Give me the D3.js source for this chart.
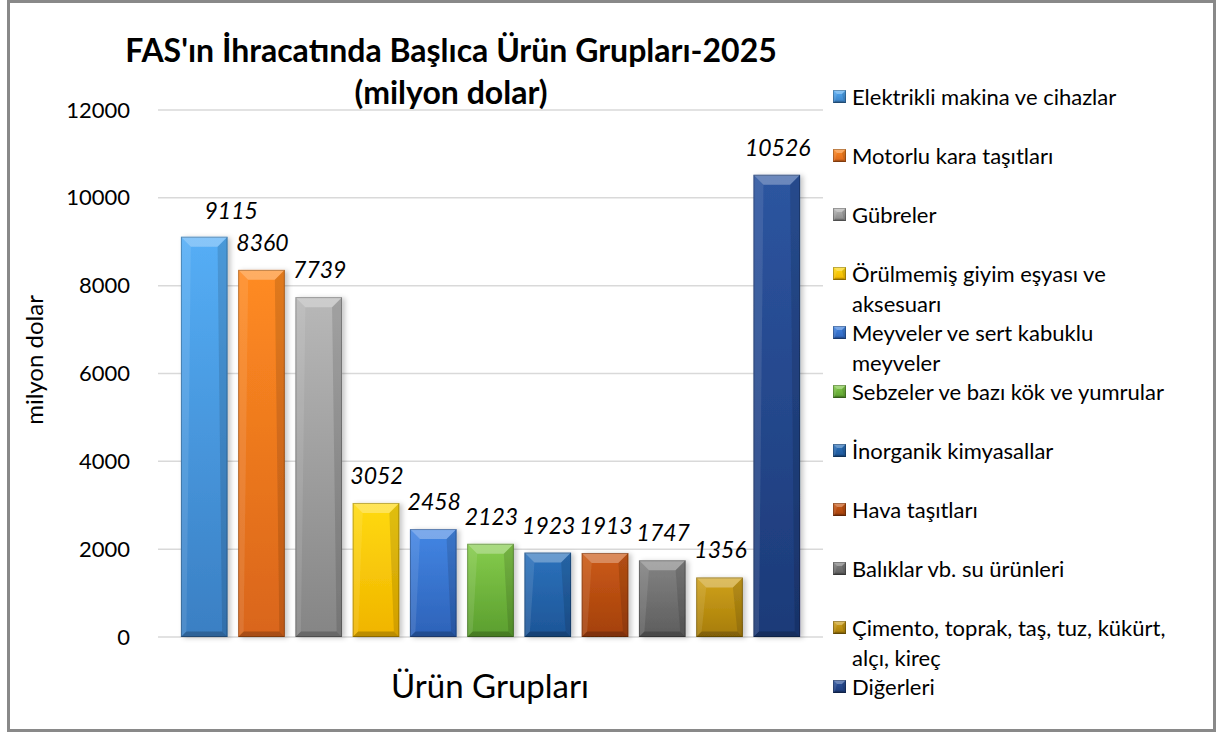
<!DOCTYPE html>
<html>
<head>
<meta charset="utf-8">
<script src="https://cdn.jsdelivr.net/npm/d3@7"></script>
<style>
  body { margin: 0; background: #fff; }
  svg { display: block; font-family: Lato, "Open Sans", "DejaVu Sans", sans-serif; }
</style>
</head>
<body>
<svg id="canvas"></svg>
<script>
// chart data
const categories = [
  "Elektrikli makina ve cihazlar",
  "Motorlu kara taşıtları",
  "Gübreler",
  "Örülmemiş giyim eşyası ve aksesuarı",
  "Meyveler ve sert kabuklu meyveler",
  "Sebzeler ve bazı kök ve yumrular",
  "İnorganik kimyasallar",
  "Hava taşıtları",
  "Balıklar vb. su ürünleri",
  "Çimento, toprak, taş, tuz, kükürt, alçı, kireç",
  "Diğerleri"
]
const values = [9115, 8360, 7739, 3052, 2458, 2123, 1923, 1913, 1747, 1356, 10526]
const legendLines = [
  ["Elektrikli makina ve cihazlar"],
  ["Motorlu kara taşıtları"],
  ["Gübreler"],
  ["Örülmemiş giyim eşyası ve", "aksesuarı"],
  ["Meyveler ve sert kabuklu", "meyveler"],
  ["Sebzeler ve bazı kök ve yumrular"],
  ["İnorganik kimyasallar"],
  ["Hava taşıtları"],
  ["Balıklar vb. su ürünleri"],
  ["Çimento, toprak, taş, tuz, kükürt,", "alçı, kireç"],
  ["Diğerleri"]
]
const yTicks = [0, 2000, 4000, 6000, 8000, 10000, 12000]
const titleLines = ["FAS'ın İhracatında Başlıca Ürün Grupları-2025", "(milyon dolar)"]
const yTitle = "milyon dolar"
const xTitle = "Ürün Grupları"

// colours: [light top, base bottom]
const barColors = [
  ["#55aef6", "#3a7fc3"],
  ["#ff8b22", "#d9651a"],
  ["#b8b8b8", "#858585"],
  ["#ffda10", "#f0b400"],
  ["#4386e4", "#2d62b8"],
  ["#86cc4c", "#5a9e2e"],
  ["#2c72bc", "#1d5597"],
  ["#cc5a16", "#a3400c"],
  ["#838383", "#5d5d5d"],
  ["#d0a21c", "#a67c08"],
  ["#2d55a0", "#1c3a78"]
]

const width = 1219
const height = 733
const plot = { left: 158, right: 823, top: 110, bottom: 637 }

let canvas = d3.select("#canvas")
  .attr("width", width)
  .attr("height", height)

let defs = canvas.append("defs")

barColors.forEach((c, i) => {
  let g = defs.append("linearGradient")
    .attr("id", "grad" + i)
    .attr("x1", 0).attr("y1", 0).attr("x2", 0).attr("y2", 1)
  g.append("stop").attr("offset", "0%").attr("stop-color", c[0])
  g.append("stop").attr("offset", "100%").attr("stop-color", c[1])
})

defs.append("filter")
  .attr("id", "shadow")
  .attr("x", "-20%").attr("y", "-10%").attr("width", "150%").attr("height", "130%")
  .append("feDropShadow")
  .attr("dx", 3).attr("dy", 1).attr("stdDeviation", 2.5)
  .attr("flood-color", "#000").attr("flood-opacity", 0.22)

// frame
canvas.append("rect")
  .attr("x", 8.5).attr("y", 1.5)
  .attr("width", 1206).attr("height", 729)
  .attr("fill", "#fff")
  .attr("stroke", "#898989")
  .attr("stroke-width", 3)

let xScale = d3.scaleBand()
  .domain(categories)
  .range([plot.left, plot.right])
  .paddingInner(0.185)
  .paddingOuter(0.4)

let yScale = d3.scaleLinear()
  .domain([0, 12000])
  .range([plot.bottom, plot.top])

// gridlines
canvas.append("g")
  .selectAll("line")
  .data(yTicks)
  .enter()
  .append("line")
  .attr("x1", plot.left).attr("x2", plot.right)
  .attr("y1", d => yScale(d)).attr("y2", d => yScale(d))
  .attr("stroke", "#d9d9d9")
  .attr("stroke-width", 1.5)

// y axis labels
let yAxis = d3.axisLeft(yScale)
  .tickValues(yTicks)
  .tickFormat(d3.format("d"))
  .tickSize(0)
  .tickPadding(28)
canvas.append("g")
  .attr("id", "y-axis")
  .attr("transform", `translate(${plot.left}, 0)`)
  .call(yAxis)
  .call(g => g.select(".domain").remove())
  .selectAll("text")
  .attr("font-family", "Lato, 'Open Sans', sans-serif")
  .attr("font-size", 22)
  .attr("fill", "#000")

// bevelled bar
let drawBevel = (g, x, y, w, h, i, b) => {
  g.append("rect")
    .attr("x", x).attr("y", y).attr("width", w).attr("height", h)
    .attr("fill", `url(#grad${i})`)
  let bb = Math.min(b, h / 2.5)
  let bs = Math.min(b * 0.55, h / 3)
  // top face
  g.append("path")
    .attr("d", `M${x},${y}L${x + w},${y}L${x + w - bb},${y + bb}L${x + bb},${y + bb}Z`)
    .attr("fill", "#fff").attr("opacity", 0.3)
  // left side
  g.append("path")
    .attr("d", `M${x},${y}L${x + bb},${y + bb}L${x + bs},${y + h - bs}L${x},${y + h}Z`)
    .attr("fill", "#fff").attr("opacity", 0.1)
  // right side
  g.append("path")
    .attr("d", `M${x + w},${y}L${x + w - bb},${y + bb}L${x + w - bs},${y + h - bs}L${x + w},${y + h}Z`)
    .attr("fill", "#000").attr("opacity", 0.12)
  // bottom
  g.append("path")
    .attr("d", `M${x},${y + h}L${x + bs},${y + h - bs}L${x + w - bs},${y + h - bs}L${x + w},${y + h}Z`)
    .attr("fill", "#000").attr("opacity", 0.22)
  g.append("rect")
    .attr("x", x + 0.5).attr("y", y + 0.5).attr("width", w - 1).attr("height", h - 1)
    .attr("fill", "none")
    .attr("stroke", "#000").attr("stroke-opacity", 0.25)
}

let bars = canvas.append("g").attr("id", "bars")
values.forEach((v, i) => {
  let g = bars.append("g").attr("filter", "url(#shadow)")
  let x = xScale(categories[i])
  let y = yScale(v)
  drawBevel(g, x, y, xScale.bandwidth(), yScale(0) - y, i, 10)
})

// value labels
canvas.append("g")
  .selectAll("text")
  .data(values)
  .enter()
  .append("text")
  .attr("x", (d, i) => xScale(categories[i]) + xScale.bandwidth() / 2 + (i === 0 ? 27 : 1))
  .attr("y", (d, i) => yScale(d) - (i === 0 ? 18 : 19))
  .attr("text-anchor", "middle")
  .attr("font-style", "italic")
  .attr("font-size", 23)
  .attr("fill", "#000")
  .text(d => d)

// title
canvas.append("g")
  .selectAll("text")
  .data(titleLines)
  .enter()
  .append("text")
  .attr("x", 451)
  .attr("y", (d, i) => 62 + i * 42)
  .attr("text-anchor", "middle")
  .attr("font-weight", "bold")
  .attr("font-size", 32)
  .attr("fill", "#000")
  .text(d => d)

// axis titles
canvas.append("text")
  .attr("transform", "translate(43, 360) rotate(-90)")
  .attr("text-anchor", "middle")
  .attr("font-size", 24)
  .text(yTitle)

canvas.append("text")
  .attr("x", 490).attr("y", 698)
  .attr("text-anchor", "middle")
  .attr("font-size", 33)
  .text(xTitle)

// legend
let legend = canvas.append("g").attr("id", "legend")
legendLines.forEach((lines, i) => {
  let cy = 97 + i * 59
  let g = legend.append("g")
  drawBevel(g, 833, cy - 7, 13, 13, i, 4)
  lines.forEach((t, j) => {
    g.append("text")
      .attr("x", 852)
      .attr("y", cy + 8 + j * 30)
      .attr("font-size", 22)
      .attr("fill", "#000")
      .text(t)
  })
})
</script>
</body>
</html>
